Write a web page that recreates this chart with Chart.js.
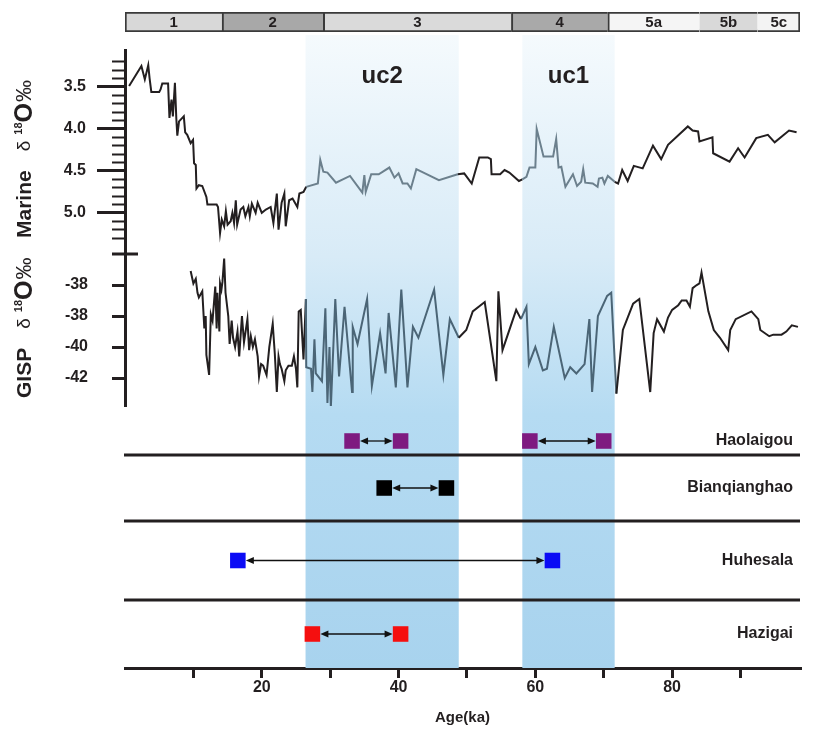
<!DOCTYPE html>
<html>
<head>
<meta charset="utf-8">
<script src="https://cdn.jsdelivr.net/npm/chart.js@4.4.0/dist/chart.umd.min.js"></script>
<style>
  html, body { margin: 0; padding: 0; background: #fff; }
  #wrap { position: relative; width: 823px; height: 736px; }
</style>
</head>
<body>
<div id="wrap"><canvas id="chart" width="823" height="736"></canvas></div>
<script>
// Marine / GISP d18O records with site age ranges (uc1, uc2 shaded)

const FONT = "'Liberation Sans', Arial, Helvetica, sans-serif";
const INK = '#231f20';

// MIS stages (top bar)
const misLabels = ['1', '2', '3', '4', '5a', '5b', '5c'];
const misBounds = [0, 14.2, 29, 56.5, 70.6, 84, 92.5, 98.7];

// shaded intervals
const ucLabels = ['uc2', 'uc1'];
const ucStart = [26.4, 58.1];
const ucEnd = [48.8, 71.6];

// age axis
const ageTicks = [10, 20, 30, 40, 50, 60, 70, 80, 90];
const ageLabelled = [20, 40, 60, 80];

// Marine d18O
const marineAge = [0.6, 2.4, 2.9, 3.4, 3.6, 3.85, 5.0, 5.2, 5.45, 6.3, 6.5, 6.8, 7.0, 7.3, 7.5, 7.65, 7.9,
  8.6, 8.8, 9.1, 9.6, 9.95, 10.1, 10.35, 10.45, 10.8, 11.3, 11.9, 12.05, 13.4, 13.6, 13.9, 14.15, 14.5,
  14.75, 15.0, 15.45, 15.7, 15.95, 16.2, 16.4, 16.9, 17.3, 17.6, 18.05, 18.25, 18.55, 19.1, 19.4, 20.0,
  20.6, 21.3, 21.7, 22.2, 22.45, 22.9, 23.3, 23.5, 24.0, 24.5, 25.2, 25.5, 26.1, 26.5, 28.2, 28.55, 29.0,
  29.6, 30.85, 32.9, 34.7, 35.0, 35.2, 36.0, 37.1, 38.65, 39.4, 40.0, 40.6, 41.3, 41.8, 42.6, 45.9, 48.65,
  49.6, 50.7, 51.8, 53.05, 53.5, 53.6, 54.85, 55.5, 56.2, 57.6, 58.1, 58.7, 59.15, 60.0, 60.2, 61.2, 62.6,
  63.05, 63.4, 63.8, 64.4, 65.5, 66.1, 66.7, 67.0, 67.3, 68.4, 69.1, 69.3, 69.8, 70.1, 70.6, 71.6, 72.1,
  72.7, 73.5, 74.4, 75.7, 77.2, 78.4, 79.4, 82.3, 83.0, 83.8, 84.0, 85.9, 86.0, 88.4, 89.65, 90.6, 92.3,
  94.0, 95.0, 97.1, 98.2];
const marineD18O = [3.49, 3.25, 3.41, 3.24, 3.40, 3.56, 3.56, 3.53, 3.46, 3.46, 3.87, 3.65, 3.85, 3.45, 3.87, 4.08, 3.91,
  3.85, 4.04, 4.07, 4.17, 4.13, 4.41, 4.43, 4.71, 4.67, 4.68, 4.81, 4.90, 4.90, 4.93, 5.24, 5.08, 5.16,
  4.98, 5.14, 5.10, 5.00, 5.12, 4.85, 5.14, 4.96, 4.93, 5.04, 4.93, 5.04, 4.89, 5.00, 4.88, 5.00,
  4.96, 4.93, 5.12, 4.77, 5.20, 4.88, 4.77, 5.16, 4.85, 4.83, 4.93, 4.77, 4.75, 4.69, 4.65, 4.37, 4.51,
  4.52, 4.64, 4.56, 4.76, 4.55, 4.75, 4.54, 4.54, 4.46, 4.58, 4.53, 4.65, 4.65, 4.71, 4.48, 4.61, 4.54,
  4.53, 4.65, 4.34, 4.34, 4.36, 4.54, 4.54, 4.49, 4.52, 4.62, 4.60, 4.57, 4.46, 4.46, 4.00, 4.33, 4.33,
  4.12, 4.46, 4.45, 4.69, 4.54, 4.68, 4.63, 4.48, 4.64, 4.65, 4.69, 4.59, 4.58, 4.65, 4.56, 4.63, 4.65,
  4.49, 4.62, 4.44, 4.47, 4.20, 4.36, 4.19, 3.97, 4.02, 4.03, 4.15, 4.10, 4.29, 4.39, 4.23, 4.34, 4.11,
  4.07, 4.16, 4.02, 4.04];
const marineTicks = [3.5, 4.0, 4.5, 5.0];

// GISP d18O
const gispAge = [9.6, 10.0, 10.35, 10.6, 10.8, 11.3, 11.6, 11.8, 11.9, 12.3, 12.55, 12.8, 13.2, 13.4, 13.5,
  13.8, 13.9, 14.1, 14.25, 14.5, 14.7, 15.1, 15.3, 15.6, 15.8, 16.1, 16.45, 16.7, 17.1, 17.4, 17.9, 18.15,
  18.4, 18.7, 19.0, 19.4, 19.6, 19.9, 20.2, 20.7, 21.1, 21.6, 21.9, 22.2, 22.45, 22.65, 22.9, 23.3, 23.5,
  23.9, 24.4, 24.7, 25.0, 25.2, 25.4, 25.7, 26.1, 26.45, 26.5, 27.2, 27.4, 27.7, 27.9, 28.8, 29.3, 29.6,
  29.9, 30.1, 30.75, 31.3, 32.1, 33.2, 33.3, 34.0, 35.4, 36.1, 37.3, 38.1, 38.55, 39.6, 40.4, 41.3, 42.1,
  42.9, 45.2, 46.55, 47.5, 48.8, 49.9, 50.85, 52.6, 54.3, 54.6, 55.2, 57.2, 57.9, 58.7, 59.05, 60.0, 61.1,
  61.7, 62.7, 64.3, 65.1, 66.0, 67.2, 67.9, 68.3, 69.15, 70.5, 71.1, 71.85, 72.8, 74.3, 75.2, 76.8, 77.3,
  77.8, 78.8, 79.4, 80.0, 80.9, 81.4, 82.1, 82.6, 83.0, 83.6, 84.0, 84.3, 85.3, 86.1, 87.0, 88.2, 88.5,
  89.3, 91.6, 92.6, 92.9, 94.2, 94.8, 96.0, 96.7, 97.5, 98.4];
const gispD18O = [-35.1, -35.9, -35.6, -36.5, -36.8, -36.4, -38.8, -38.0, -40.5, -41.8, -37.9, -38.3, -36.1, -38.8, -36.5,
  -39.0, -35.9, -36.3, -35.8, -34.3, -36.5, -38.0, -39.8, -38.3, -39.4, -40.0, -39.0, -40.6, -38.0, -39.7, -38.2, -40.2,
  -39.3, -40.0, -39.5, -40.6, -41.9, -41.1, -41.2, -41.8, -40.0, -38.5, -40.4, -42.9, -40.6, -41.1, -41.4, -42.2, -41.5,
  -41.2, -41.2, -40.6, -41.4, -42.6, -37.7, -37.6, -40.8, -36.9, -41.3, -41.4, -42.9, -39.5, -41.7, -42.2, -37.5, -43.6,
  -40.0, -43.9, -36.9, -41.9, -37.4, -42.9, -38.7, -39.8, -36.9, -42.5, -39.1, -41.7, -37.8, -42.6, -36.3, -42.6, -38.7,
  -39.4, -36.3, -41.8, -38.2, -39.4, -38.9, -37.7, -37.1, -42.2, -36.4, -40.2, -37.6, -38.2, -37.4, -41.1, -40.0, -41.5,
  -41.4, -38.7, -42.0, -41.3, -41.7, -41.1, -38.2, -42.9, -38.0, -36.7, -36.5, -43.0, -38.9, -37.2, -36.9, -42.9, -39.1,
  -38.2, -39.0, -38.1, -37.6, -37.3, -37.0, -37.0, -37.4, -36.2, -36.0, -35.9, -35.2, -37.7, -38.9, -39.4, -40.2, -38.9,
  -38.2, -37.7, -38.2, -38.9, -39.3, -39.2, -39.2, -39.0, -38.6, -38.7];
const gispTicks = [-36, -38, -40, -42];
const gispTickLabels = ['-38', '-38', '-40', '-42'];

// site age ranges (ka)
const sites = ['Haolaigou', 'Bianqianghao', 'Huhesala', 'Hazigai'];
const rangeSite = ['Haolaigou', 'Haolaigou', 'Bianqianghao', 'Huhesala', 'Hazigai'];
const rangeStart = [33.2, 59.2, 37.9, 16.5, 27.4];
const rangeEnd = [40.3, 70.0, 47.0, 62.5, 40.3];

// styles
const misColors = ['#d8d8d8', '#a8a8a8', '#dadada', '#a9a9a9', '#f5f5f5', '#d9d9d9', '#f3f3f3'];
const siteColors = { Haolaigou: '#7e1a80', Bianqianghao: '#000000', Huhesala: '#0b0bf5', Hazigai: '#f50f0f' };

// vertical placement of each panel (px)
const panels = {
  yMis: [12, 32],
  yM: [50, 254],
  yMm: [50, 254],
  yG: [254, 406],
  site0: [427, 455],
  site1: [455, 521],
  site2: [521, 600],
  site3: [600, 668]
};

const inUc = (x) => ucStart.some((s, i) => x >= s && x <= ucEnd[i]);
const boldFont = (size) => ({ family: FONT, size: size, weight: 'bold' });

const panelLayout = {
  id: 'panelLayout',
  afterLayout(chart) {
    Object.keys(panels).forEach((id) => {
      const s = chart.scales[id];
      s.top = panels[id][0];
      s.bottom = panels[id][1];
      s.height = s.bottom - s.top;
      // the left axes have no width in the layout; open up room for their labels
      if (s.options.display) s.left = 0;
      s.configure();
    });
  }
};

function drawTitle(ctx, x, yStart, name) {
  const parts = [
    { text: name, font: 'bold 21px ' + FONT, gap: 19, dy: 0 },
    { text: 'δ', font: '19px ' + FONT, gap: 6, dy: 0 },
    { text: '18', font: 'bold 11px ' + FONT, gap: 0, dy: -6 },
    { text: 'O', font: 'bold 25px ' + FONT, gap: 1, dy: 0 },
    { text: '‰', font: '22px ' + FONT, gap: 0, dy: 0 }
  ];
  ctx.save();
  ctx.translate(x, yStart);
  ctx.rotate(-Math.PI / 2);
  ctx.fillStyle = INK;
  ctx.textBaseline = 'middle';
  ctx.textAlign = 'left';
  let cx = 0;
  parts.forEach((p) => {
    ctx.font = p.font;
    ctx.fillText(p.text, cx, p.dy);
    cx += ctx.measureText(p.text).width + p.gap;
  });
  ctx.restore();
}

const decorations = {
  id: 'decorations',
  beforeDatasetsDraw(chart) {
    const { ctx, chartArea } = chart;
    const x = chart.scales.x;
    const grad = ctx.createLinearGradient(0, 35, 0, chartArea.bottom);
    grad.addColorStop(0, '#f5fafd');
    grad.addColorStop(0.35, '#d8ebf7');
    grad.addColorStop(0.6, '#b5dbf2');
    grad.addColorStop(1, '#a8d3ee');
    ctx.save();
    ucLabels.forEach((label, i) => {
      const x0 = x.getPixelForValue(ucStart[i]);
      const x1 = x.getPixelForValue(ucEnd[i]);
      ctx.fillStyle = grad;
      ctx.fillRect(x0, 35, x1 - x0, chartArea.bottom - 35);
      ctx.fillStyle = INK;
      ctx.font = 'bold 24px ' + FONT;
      ctx.textAlign = 'center';
      ctx.textBaseline = 'middle';
      ctx.fillText(label, (x0 + x1) / 2, 76);
    });
    ctx.restore();
  },
  afterDatasetsDraw(chart) {
    const { ctx, chartArea } = chart;
    ctx.save();
    // MIS labels
    const misMeta = chart.getDatasetMeta(0);
    ctx.fillStyle = INK;
    ctx.font = 'bold 15px ' + FONT;
    ctx.textAlign = 'center';
    ctx.textBaseline = 'middle';
    misMeta.data.forEach((bar, i) => {
      ctx.fillText(misLabels[i], (bar.x + bar.base) / 2, bar.y + 1);
    });
    // row dividers
    ctx.strokeStyle = INK;
    ctx.lineWidth = 3;
    [0, 1, 2].forEach((i) => {
      const y = chart.scales['site' + i].bottom;
      ctx.beginPath();
      ctx.moveTo(chartArea.left - 1, y);
      ctx.lineTo(chartArea.right, y);
      ctx.stroke();
    });
    // site names
    ctx.font = 'bold 16px ' + FONT;
    ctx.textAlign = 'right';
    sites.forEach((s, i) => {
      const sc = chart.scales['site' + i];
      ctx.fillText(s, 793, sc.getPixelForValue(0));
    });
    // double arrows between range ends
    ctx.lineWidth = 1.3;
    ctx.fillStyle = '#111';
    ctx.strokeStyle = '#111';
    rangeSite.forEach((s, i) => {
      const pts = chart.getDatasetMeta(3 + i).data;
      const y = pts[0].y;
      const a = pts[0].x + 8;
      const b = pts[1].x - 8;
      ctx.beginPath();
      ctx.moveTo(a + 4, y);
      ctx.lineTo(b - 4, y);
      ctx.stroke();
      ctx.beginPath();
      ctx.moveTo(a, y); ctx.lineTo(a + 8, y - 3.5); ctx.lineTo(a + 8, y + 3.5); ctx.closePath();
      ctx.moveTo(b, y); ctx.lineTo(b - 8, y - 3.5); ctx.lineTo(b - 8, y + 3.5); ctx.closePath();
      ctx.fill();
    });
    ctx.restore();
  },
  afterDraw(chart) {
    const { ctx } = chart;
    const yM = chart.scales.yM;
    ctx.save();
    ctx.strokeStyle = INK;
    ctx.lineWidth = 3;
    ctx.beginPath();
    ctx.moveTo(112, yM.bottom);
    ctx.lineTo(138, yM.bottom);
    ctx.stroke();
    ctx.restore();
    drawTitle(ctx, 25, 238, 'Marine');
    drawTitle(ctx, 25, 398, 'GISP');
  }
};

const lineSegment = (inColor) => ({
  borderColor: (c) => (inUc((c.p0.parsed.x + c.p1.parsed.x) / 2) ? inColor : INK)
});

const datasets = [
  {
    type: 'bar',
    indexAxis: 'y',
    xAxisID: 'x',
    yAxisID: 'yMis',
    data: misLabels.map((l, i) => ({ x: [misBounds[i], misBounds[i + 1]], y: 'MIS' })),
    backgroundColor: misColors,
    borderColor: '#3a3a3a',
    borderSkipped: false,
    borderWidth: misLabels.map((l, i) => ({
      top: 2, bottom: 2,
      left: i <= 4 ? 2 : 0,
      right: i === misLabels.length - 1 ? 2 : 0
    })),
    barPercentage: 1,
    categoryPercentage: 1
  },
  {
    type: 'line',
    xAxisID: 'x',
    yAxisID: 'yM',
    data: marineAge.map((a, i) => ({ x: a, y: marineD18O[i] })),
    borderColor: INK,
    borderWidth: 2,
    pointRadius: 0,
    tension: 0,
    segment: lineSegment('#6c808d')
  },
  {
    type: 'line',
    xAxisID: 'x',
    yAxisID: 'yG',
    data: gispAge.map((a, i) => ({ x: a, y: gispD18O[i] })),
    borderColor: INK,
    borderWidth: 2,
    pointRadius: 0,
    tension: 0,
    segment: lineSegment('#4b6576')
  }
];

rangeSite.forEach((s, i) => {
  datasets.push({
    type: 'line',
    xAxisID: 'x',
    yAxisID: 'site' + sites.indexOf(s),
    data: [{ x: rangeStart[i], y: s }, { x: rangeEnd[i], y: s }],
    showLine: false,
    pointStyle: 'rect',
    pointRadius: 11,
    pointBorderWidth: 0,
    pointBackgroundColor: siteColors[s],
    pointBorderColor: siteColors[s]
  });
});

const scales = {
  x: {
    type: 'linear',
    position: 'bottom',
    min: 0,
    max: 98.7,
    z: 1,
    afterBuildTicks: (s) => { s.ticks = ageTicks.map((v) => ({ value: v })); },
    afterFit: (s) => { s.height = 68; },
    border: { display: true, width: 3, color: INK },
    grid: { drawOnChartArea: false, tickLength: 10, tickWidth: 3, tickColor: INK, lineWidth: 3 },
    ticks: {
      autoSkip: false,
      maxRotation: 0,
      padding: 0,
      color: INK,
      font: boldFont(16),
      callback: (v) => (ageLabelled.includes(v) ? String(v) : '')
    },
    title: { display: true, text: 'Age(ka)', color: INK, font: boldFont(15), padding: { top: 0, bottom: 9 } }
  },
  yMis: { type: 'category', axis: 'y', position: 'left', labels: ['MIS'], offset: true, display: false },
  yM: {
    type: 'linear',
    axis: 'y',
    position: 'left',
    min: 3.06,
    max: 5.49,
    reverse: true,
    afterFit: (s) => { s.width = 0; },
    afterBuildTicks: (s) => { s.ticks = marineTicks.map((v) => ({ value: v })); },
    border: { display: true, width: 3, color: INK },
    grid: { drawOnChartArea: false, tickLength: 28, tickWidth: 3, tickColor: INK },
    ticks: { autoSkip: false, padding: 11, color: INK, font: boldFont(16), callback: (v) => v.toFixed(1) }
  },
  yMm: {
    type: 'linear',
    axis: 'y',
    position: 'left',
    min: 3.06,
    max: 5.49,
    reverse: true,
    afterFit: (s) => { s.width = 0; },
    afterBuildTicks: (s) => {
      const t = [];
      for (let k = 32; k <= 53; k++) t.push({ value: k / 10 });
      s.ticks = t;
    },
    border: { display: false },
    grid: { drawOnChartArea: false, tickLength: 13, tickWidth: 2, tickColor: INK },
    ticks: { display: false, autoSkip: false }
  },
  yG: {
    type: 'linear',
    axis: 'y',
    position: 'left',
    min: -43.8,
    max: -34.0,
    afterFit: (s) => { s.width = 0; },
    afterBuildTicks: (s) => { s.ticks = gispTicks.map((v) => ({ value: v })); },
    border: { display: true, width: 3, color: INK },
    grid: { drawOnChartArea: false, tickLength: 13, tickWidth: 3, tickColor: INK },
    ticks: {
      autoSkip: false,
      padding: 24,
      color: INK,
      font: boldFont(16),
      callback: (v) => gispTickLabels[gispTicks.indexOf(v)]
    }
  }
};
sites.forEach((s, i) => {
  scales['site' + i] = { type: 'category', axis: 'y', position: 'left', labels: [s], offset: true, display: false };
});

Chart.defaults.font.family = FONT;

new Chart(document.getElementById('chart'), {
  type: 'line',
  data: { datasets: datasets },
  options: {
    responsive: false,
    animation: false,
    devicePixelRatio: 1,
    layout: { padding: { top: 10, left: 125, right: 23, bottom: 0 } },
    plugins: { legend: { display: false }, tooltip: { enabled: false } },
    scales: scales
  },
  plugins: [panelLayout, decorations]
});
</script>
</body>
</html>
